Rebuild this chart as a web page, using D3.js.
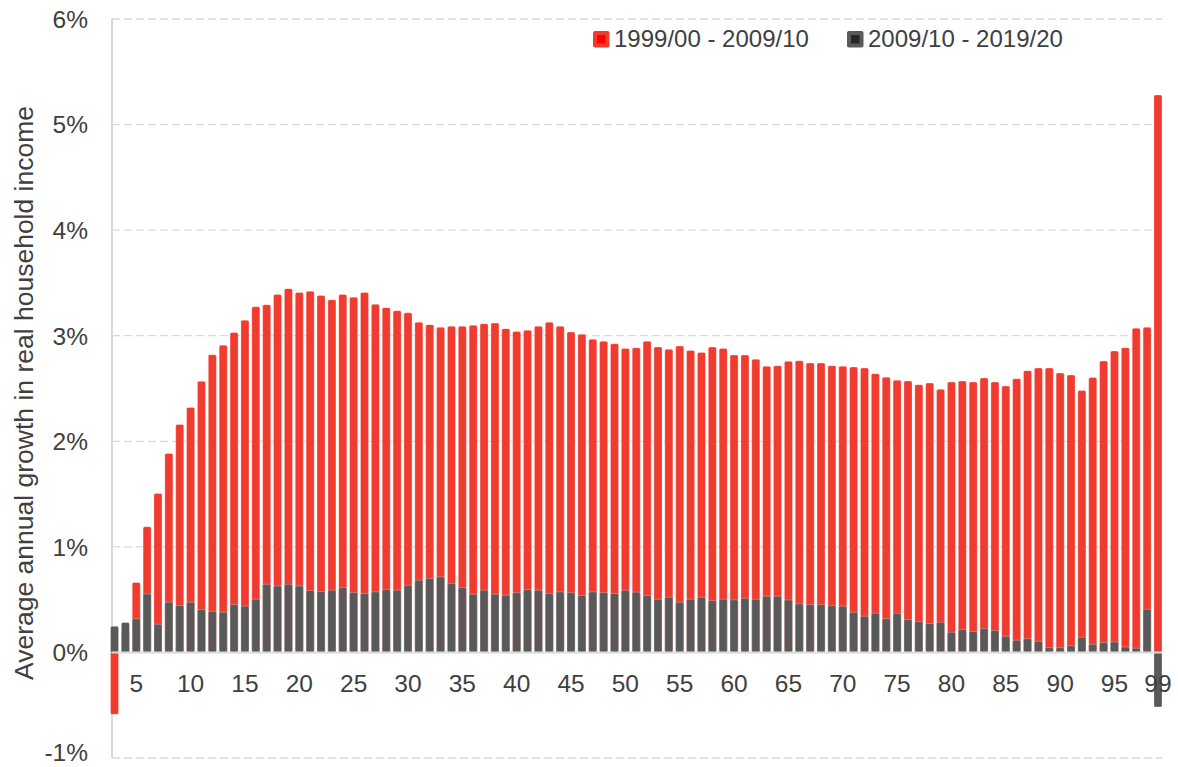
<!DOCTYPE html>
<html lang="en">
<head>
  <meta charset="UTF-8" />
  <title>Average annual growth in real household income by percentile</title>
  <style>
    body { margin: 0; padding: 0; background: #fff; }
    svg { display: block; font-family: "Liberation Sans", Arial, sans-serif; }
  </style>
  <script src="https://d3js.org/d3.v7.min.js"></script>
</head>
<body>
<svg id="chart" width="1178" height="767"></svg>

<script>
// percentiles shown on the x axis
const percentiles = d3.range(3, 100);

// average annual growth (%), 1999/00 - 2009/10
const growth2000s = [
  -0.586, 0.20, 0.663, 1.19, 1.506, 1.885, 2.16, 2.32, 2.568, 2.82,
  2.91, 3.03, 3.146, 3.275, 3.294, 3.39, 3.446, 3.41, 3.42, 3.38,
  3.34, 3.39, 3.364, 3.41, 3.297, 3.266, 3.237, 3.218, 3.127, 3.105,
  3.079, 3.089, 3.089, 3.098, 3.114, 3.120, 3.067, 3.041, 3.051, 3.089,
  3.127, 3.089, 3.035, 3.013, 2.966, 2.947, 2.924, 2.880, 2.887, 2.947,
  2.893, 2.871, 2.902, 2.861, 2.842, 2.893, 2.880, 2.817, 2.817, 2.776,
  2.710, 2.716, 2.757, 2.763, 2.741, 2.741, 2.716, 2.710, 2.703, 2.694,
  2.640, 2.607, 2.578, 2.571, 2.536, 2.552, 2.492, 2.561, 2.571, 2.561,
  2.599, 2.561, 2.523, 2.593, 2.669, 2.694, 2.694, 2.646, 2.627, 2.482,
  2.605, 2.760, 2.855, 2.887, 3.070, 3.079, 5.28
];

// average annual growth (%), 2009/10 - 2019/20
const growth2010s = [
  0.248, 0.283, 0.32, 0.555, 0.267, 0.476, 0.444, 0.476, 0.406, 0.39,
  0.381, 0.454, 0.438, 0.504, 0.646, 0.63, 0.646, 0.63, 0.587, 0.577,
  0.59, 0.615, 0.568, 0.558, 0.574, 0.596, 0.59, 0.637, 0.684, 0.700,
  0.716, 0.653, 0.615, 0.552, 0.59, 0.552, 0.542, 0.568, 0.596, 0.59,
  0.558, 0.574, 0.568, 0.539, 0.574, 0.568, 0.558, 0.59, 0.571, 0.539,
  0.504, 0.523, 0.476, 0.504, 0.523, 0.492, 0.504, 0.498, 0.514, 0.504,
  0.533, 0.533, 0.498, 0.460, 0.454, 0.454, 0.444, 0.438, 0.381, 0.343,
  0.372, 0.32, 0.37, 0.312, 0.293, 0.274, 0.286, 0.191, 0.217, 0.198,
  0.226, 0.207, 0.154, 0.116, 0.131, 0.106, 0.046, 0.046, 0.065, 0.144,
  0.078, 0.094, 0.100, 0.052, 0.040, 0.409, -0.517
];

const xTickLabels = [5, 10, 15, 20, 25, 30, 35, 40, 45, 50, 55, 60, 65, 70, 75, 80, 85, 90, 95, 99];
const yTicks = [-1, 0, 1, 2, 3, 4, 5, 6];

const seriesNames = ["1999/00 - 2009/10", "2009/10 - 2019/20"];
const seriesColors = ["#f03b2e", "#595959"];
const swatchInner = ["#ff0000", "#262626"];

const svg = d3.select("#chart");
const textColor = "#404040";
const gridColor = "#d9d9d9";

const x = d3.scaleBand()
  .domain(percentiles)
  .range([110.5, 1162])
  .paddingInner(0.26)
  .paddingOuter(0);

const y = d3.scaleLinear()
  .domain([-1, 6])
  .range([758, 19]);

const plotLeft = 112, plotRight = 1162;

// gridlines
svg.append("g")
  .selectAll("line")
  .data(yTicks.filter(d => d !== 0))
  .join("line")
  .attr("x1", plotLeft)
  .attr("x2", plotRight)
  .attr("y1", d => y(d))
  .attr("y2", d => y(d))
  .attr("stroke", gridColor)
  .attr("stroke-width", 1.3)
  .attr("stroke-dasharray", "8,4");

// left axis line
svg.append("line")
  .attr("x1", plotLeft).attr("x2", plotLeft)
  .attr("y1", y(6)).attr("y2", y(-1))
  .attr("stroke", gridColor)
  .attr("stroke-width", 2);

// bars: both series drawn at the same position, recent one in front
function drawBars(values, color) {
  svg.append("g")
    .selectAll("rect")
    .data(values.map((v, i) => ({ p: percentiles[i], v })))
    .join("rect")
    .attr("x", d => x(d.p))
    .attr("width", x.bandwidth())
    .attr("y", d => Math.min(y(d.v), y(0)))
    .attr("height", d => Math.abs(y(d.v) - y(0)))
    .attr("rx", 1.5)
    .attr("fill", color)
    .attr("stroke", "rgba(255,255,255,0.35)")
    .attr("stroke-width", 0.8);
}
drawBars(growth2000s, seriesColors[0]);
drawBars(growth2010s, seriesColors[1]);

// zero line over bars
svg.append("line")
  .attr("x1", plotLeft).attr("x2", plotRight)
  .attr("y1", y(0)).attr("y2", y(0))
  .attr("stroke", gridColor)
  .attr("stroke-width", 2);

// y tick labels (bottom one nudged up so it stays inside the frame)
svg.append("g")
  .selectAll("text")
  .data(yTicks)
  .join("text")
  .attr("x", 88)
  .attr("y", d => d === -1 ? y(d) - 5.5 : y(d))
  .attr("dy", "0.36em")
  .attr("text-anchor", "end")
  .attr("font-size", 24.5)
  .attr("fill", textColor)
  .text(d => d + "%");

// x tick labels
svg.append("g")
  .selectAll("text")
  .data(xTickLabels)
  .join("text")
  .attr("x", d => x(d) + x.bandwidth() / 2)
  .attr("y", 692)
  .attr("text-anchor", "middle")
  .attr("font-size", 24.5)
  .attr("fill", textColor)
  .text(d => d);

// y axis title
svg.append("text")
  .attr("transform", "translate(33,393) rotate(-90)")
  .attr("text-anchor", "middle")
  .attr("font-size", 26.5)
  .attr("fill", textColor)
  .text("Average annual growth in real household income");

// legend
const legendX = [593, 847];
const legend = svg.append("g")
  .selectAll("g")
  .data(seriesNames)
  .join("g")
  .attr("transform", (d, i) => `translate(${legendX[i]},31)`);

legend.append("rect")
  .attr("width", 16.5).attr("height", 16.5)
  .attr("rx", 2)
  .attr("fill", (d, i) => seriesColors[i]);

legend.append("rect")
  .attr("x", 4).attr("y", 4)
  .attr("width", 8.5).attr("height", 8.5)
  .attr("fill", (d, i) => swatchInner[i]);

legend.append("text")
  .attr("x", 21)
  .attr("y", 15.7)
  .attr("font-size", 24)
  .attr("fill", textColor)
  .text(d => d);
</script>
</body>
</html>
